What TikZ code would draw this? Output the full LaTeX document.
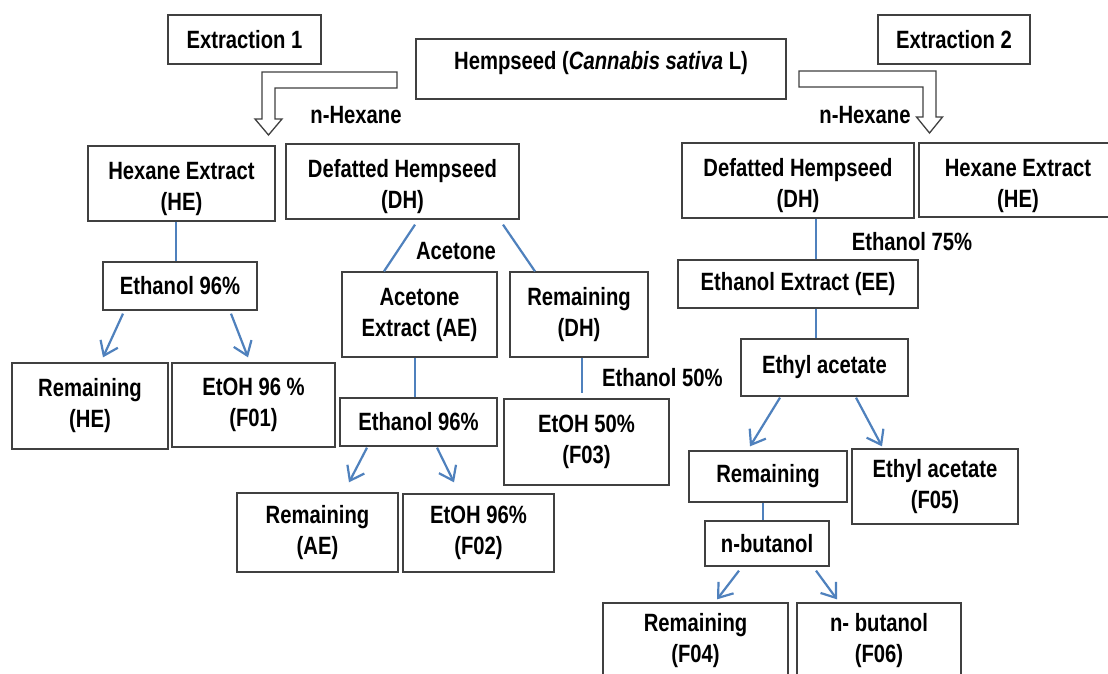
\documentclass[tikz,border=0pt]{standalone}
\usepackage{fontspec}
\setmainfont[FakeStretch=0.81]{Liberation Sans}
\usetikzlibrary{arrows.meta,calc}
\definecolor{conn}{HTML}{4F81BD}
\definecolor{edge}{HTML}{404040}
\newcommand\lowerstrut{\rule{0pt}{29pt}}
\tikzset{
  box/.style={draw=edge, line width=1.3pt, fill=white, inner sep=0pt, align=center,
    font=\fontsize{25}{31}\selectfont\bfseries},
  lbl/.style={inner sep=0pt, font=\fontsize{25}{31}\selectfont\bfseries},
  link/.style={draw=conn, line width=2.2pt},
  arr/.style={draw=conn, line width=2.2pt, -{Straight Barb[length=13pt,width=19pt]}},
  blockarrow/.style={draw=edge, line width=1.3pt, fill=white, line join=miter}
}
\begin{document}
\begin{tikzpicture}[x=1pt,y=-1pt]
\clip (0,0) rectangle (1108,674);
\fill[white] (0,0) rectangle (1108,674);

% top row
\node[box, minimum width=153, minimum height=49] (ext1) at (244.5,39.5) {Extraction 1};
\node[box, minimum width=370, text height=31, text depth=29] (hemp) at (601,69) {Hempseed (\textit{Cannabis sativa} L)};
\node[box, minimum width=152, minimum height=49] (ext2) at (954,39.5) {Extraction 2};

% block arrows
\draw[blockarrow] (397,72) -- (262,72) -- (262,119) -- (255,119) -- (268.5,135) -- (282,119) -- (275,119) -- (275,88) -- (397,88) -- cycle;
\draw[blockarrow] (799,71) -- (936,71) -- (936,117) -- (942.5,117) -- (929.5,133) -- (916.5,117) -- (923,117) -- (923,87) -- (799,87) -- cycle;
\node[lbl] (hexl) at (356,115) {n-Hexane};
\node[lbl] (hexr) at (865,115) {n-Hexane};

% extraction 1
\node[box, minimum width=187, minimum height=75] (he1) at (181.5,183.5) {\lowerstrut Hexane Extract\\(HE)};
\node[box, minimum width=233, minimum height=75] (dh1) at (402.5,181.5) {\lowerstrut Defatted Hempseed\\(DH)};
\node[box, minimum width=154, minimum height=48] (eth96a) at (180,286) {Ethanol 96\%};
\node[box, minimum width=156, minimum height=86] (remhe) at (90,406) {Remaining\\(HE)};
\node[box, minimum width=163, minimum height=84] (f01) at (253.5,405) {EtOH 96 \%\\(F01)};
\node[box, minimum width=155, minimum height=85] (ae) at (419.5,314.5) {Acetone\\Extract (AE)};
\node[box, minimum width=138, minimum height=85] (remdh) at (579,314.5) {Remaining\\(DH)};
\node[box, minimum width=157, minimum height=48] (eth96b) at (418.5,422) {Ethanol 96\%};
\node[box, minimum width=161, minimum height=79] (remae) at (317.5,532.5) {Remaining\\(AE)};
\node[box, minimum width=151, minimum height=78] (f02) at (478.5,533) {EtOH 96\%\\(F02)};
\node[box, minimum width=165, minimum height=86] (f03) at (586.5,442) {EtOH 50\%\\(F03)};
\node[lbl] (acet) at (456,251) {Acetone};
\node[lbl, anchor=west] (e50) at (602,378) {Ethanol 50\%};

% extraction 2
\node[box, minimum width=232, minimum height=75] (dh2) at (798,180.5) {\lowerstrut Defatted Hempseed\\(DH)};
\node[box, minimum width=198, minimum height=74] (he2) at (1018,180) {\lowerstrut Hexane Extract\\(HE)};
\node[box, minimum width=240, minimum height=48] (ee) at (798,284) {Ethanol Extract (EE)};
\node[box, minimum width=167, minimum height=57] (ea) at (824.5,367.5) {Ethyl acetate};
\node[box, minimum width=158, minimum height=51] (rem) at (768,476.5) {Remaining};
\node[box, minimum width=166, minimum height=75] (f05) at (935,486.5) {Ethyl acetate\\(F05)};
\node[box, minimum width=124, minimum height=45] (nbut) at (767,543.5) {n-butanol};
\node[box, minimum width=185, minimum height=76] (f04) at (695.5,641) {Remaining\\(F04)};
\node[box, minimum width=164, minimum height=76] (f06) at (879,641) {n- butanol\\(F06)};
\node[lbl] (e75) at (912,242) {Ethanol 75\%};

% connectors extraction 1
\draw[link] (176,0 |- he1.south) -- (176,0 |- eth96a.north);
\draw[arr] ($(eth96a.south)+(-57,3)$) -- ($(remhe.north)+(13,-5)$);
\draw[arr] ($(eth96a.south)+(51,3)$) -- ($(f01.north)+(-5.5,-5)$);
\draw[link] ($(dh1.south)+(12.5,5)$) -- ($(ae.north)+(-35.5,0)$);
\draw[link] ($(dh1.south)+(100.5,5)$) -- ($(remdh.north)+(-44,0)$);
\draw[link] (415,0 |- ae.south) -- (415,0 |- eth96b.north);
\draw[arr] ($(eth96b.south)+(-51.5,1)$) -- ($(remae.north)+(31.5,-10)$);
\draw[arr] ($(eth96b.south)+(18.5,1)$) -- ($(f02.north)+(-24.5,-11)$);
\draw[link] (582,0 |- remdh.south) -- ($(582,0 |- f03.north)+(0,-5)$);

% connectors extraction 2
\draw[link] (816,0 |- dh2.south) -- (816,0 |- ee.north);
\draw[link] (816,0 |- ee.south) -- (816,0 |- ea.north);
\draw[arr] ($(ea.south)+(-44.5,1)$) -- ($(rem.north)+(-18,-4)$);
\draw[arr] ($(ea.south)+(31.5,1)$) -- ($(f05.north)+(-53,-2)$);
\draw[link] (763,0 |- rem.south) -- (763,0 |- nbut.north);
\draw[arr] ($(nbut.south)+(-28,4)$) -- ($(f04.north)+(21.5,-3)$);
\draw[arr] ($(nbut.south)+(49,4)$) -- ($(f06.north)+(-42,-3)$);
\end{tikzpicture}
\end{document}
